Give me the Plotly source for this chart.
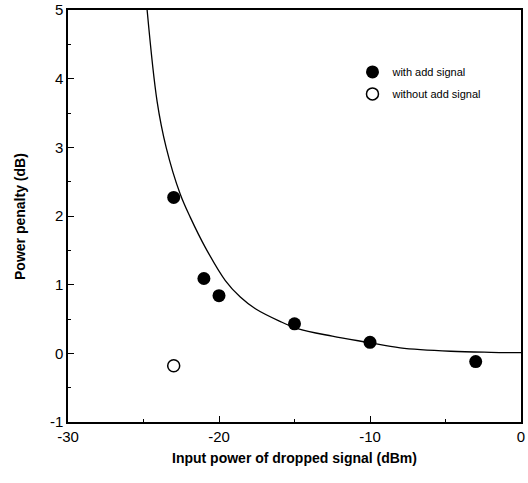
import plotly.graph_objects as go

# measured points (with add signal)
with_x = [-23, -21, -20, -15, -10, -3]
with_y = [2.27, 1.09, 0.84, 0.43, 0.16, -0.12]
# without add signal
without_x = [-23]
without_y = [-0.18]
# theoretical curve
curve_x = [-24.76, -24.1, -23.5, -22.57, -21.9, -20.9, -19.58, -18.59, -17.59, -16.0, -14.8, -12.5, -10.16, -8.0, -4.65, -2.0, 0.0]
curve_y = [5.0, 3.67, 3.0, 2.32, 1.98, 1.54, 1.06, 0.82, 0.65, 0.47, 0.36, 0.25, 0.16, 0.08, 0.03, 0.015, 0.01]

x_ticks = [-30, -20, -10, 0]
y_ticks = [-1, 0, 1, 2, 3, 4, 5]

FONT = "Liberation Sans, Arial, sans-serif"

fig = go.Figure()
fig.add_trace(go.Scatter(x=curve_x, y=curve_y, mode="lines",
                         line=dict(color="black", width=1.3, shape="spline", smoothing=1.0),
                         showlegend=False, hoverinfo="skip"))
fig.add_trace(go.Scatter(x=with_x, y=with_y, mode="markers", name="with add signal",
                         legendgroup="a",
                         marker=dict(color="black", size=13, line=dict(width=0))))
fig.add_trace(go.Scatter(x=without_x, y=without_y, mode="markers", name="without add signal",
                         legendgroup="b",
                         marker=dict(color="white", size=12, line=dict(color="black", width=1.5))))

axis_common = dict(showgrid=False, zeroline=False, showline=True, linecolor="black", linewidth=1.5,
                   mirror=True, ticks="inside", ticklen=6, tickwidth=1, tickcolor="black",
                   automargin=False,
                   tickfont=dict(family=FONT, size=15, color="black"))

fig.update_xaxes(range=[-30, 0], tickvals=x_ticks, ticktext=[str(v) for v in x_ticks],
                 minor=dict(dtick=5, ticks="inside", ticklen=3, tickcolor="black"),
                 **axis_common)
fig.update_yaxes(range=[-1, 5], tickvals=y_ticks, ticktext=[str(v) for v in y_ticks],
                 minor=dict(dtick=0.5, ticks="inside", ticklen=3, tickcolor="black"),
                 **axis_common)

fig.add_annotation(text="<b>Input power of dropped signal (dBm)</b>", xref="paper", yref="paper",
                   x=0.5, y=-0.087, xanchor="center", yanchor="middle", showarrow=False,
                   font=dict(family=FONT, size=14, color="black"))
fig.add_annotation(text="<b>Power penalty (dB)</b>", xref="paper", yref="paper",
                   x=-0.106, y=0.5, xanchor="center", yanchor="middle", showarrow=False,
                   textangle=-90, font=dict(family=FONT, size=14, color="black"))

fig.update_layout(width=528, height=483, plot_bgcolor="white", paper_bgcolor="white",
                  margin=dict(l=68, r=7, t=10, b=61),
                  font=dict(family=FONT, color="black"),
                  legend=dict(x=0.628, y=0.885, xanchor="left", yanchor="top",
                              bgcolor="rgba(0,0,0,0)", font=dict(family=FONT, size=11, color="black"),
                              tracegroupgap=3))

fig.write_html("out.html", config={"displayModeBar": False},
               post_script="document.body.style.margin='0';document.body.style.padding='0';")
